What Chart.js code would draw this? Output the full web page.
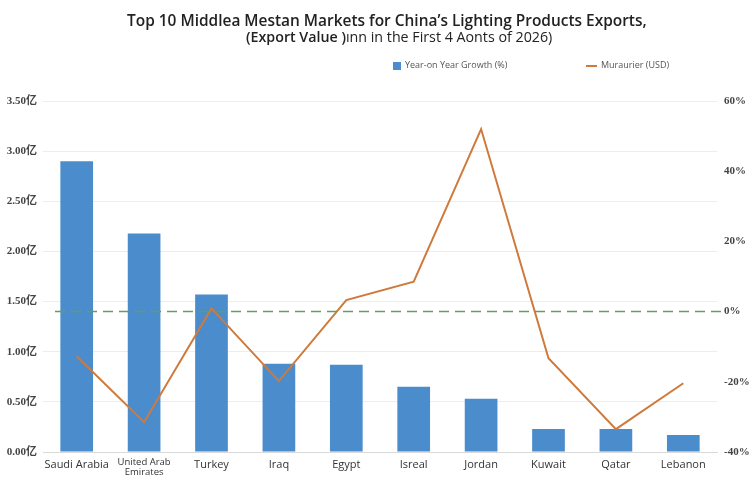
<!DOCTYPE html>
<html>
<head>
<meta charset="utf-8">
<script src="https://cdn.jsdelivr.net/npm/chart.js@4"></script>
<style>
    html, body { margin: 0; padding: 0; background: #fff; }
    #wrap { position: relative; width: 750px; height: 478px; overflow: hidden; }
    #chart { position: absolute; left: 0; top: 0; }
    .title { position: absolute; white-space: nowrap; font-family: "Open Sans", sans-serif; color: #222; }
    #t1 { left: 127px; top: 9px; font-size: 15.45px; font-weight: 600; }
    #t2 { left: 246px; top: 27px; font-size: 14.25px; font-weight: 400; }
    #t2 b { font-weight: 600; }
    .leg { position: absolute; top: 58px; font-family: "Open Sans", sans-serif; font-size: 9px; color: #555; white-space: nowrap; }
    .sw { display: inline-block; vertical-align: middle; margin-right: 4px; }
</style>
</head>
<body>
<div id="wrap">
    <canvas id="chart" width="750" height="478"></canvas>
    <div class="title" id="t1">Top 10 Middlea Mestan Markets for China’s Lighting Products Exports,</div>
    <div class="title" id="t2"><b>(Export Value )</b>ınn in the First 4 Aonts of 2026)</div>
    <div class="leg" style="left:393px"><span class="sw" style="width:8px;height:8px;background:#4a8ccc"></span>Year-on Year Growth (%)</div>
    <div class="leg" style="left:586px"><span class="sw" style="width:11px;height:2px;background:#cf7a3c"></span>Muraurier (USD)</div>
</div>
<script>
// values
const categories = ['Saudi Arabia', ['United Arab', 'Emirates'], 'Turkey', 'Iraq', 'Egypt',
    'Isreal', 'Jordan', 'Kuwait', 'Qatar', 'Lebanon'];
const exportValues = [2.90, 2.18, 1.57, 0.88, 0.87, 0.65, 0.53, 0.23, 0.23, 0.17];
const growthRates = [-12.7, -31.5, 0.9, -19.8, 3.3, 8.5, 52.0, -13.3, -33.5, -20.4];
const leftTicks = { min: 0, max: 3.5, step: 0.5 };
const rightTicks = { min: -40, max: 60, step: 20 };

// dashed green reference line at 0% on the right axis
const zeroLine = {
    id: 'zeroLine',
    afterDatasetsDraw(chart) {
        const { ctx, chartArea } = chart;
        const y = chart.scales.y1.getPixelForValue(0);
        ctx.save();
        ctx.strokeStyle = '#62a057';
        ctx.lineWidth = 1.5;
        ctx.setLineDash([10, 6]);
        ctx.beginPath();
        ctx.moveTo(chartArea.left + 12, y);
        ctx.lineTo(chartArea.right + 4, y);
        ctx.stroke();
        ctx.restore();
    }
};

new Chart(document.getElementById('chart'), {
    data: {
        labels: categories,
        datasets: [{
            type: 'line',
            label: 'Muraurier (USD)',
            data: growthRates,
            yAxisID: 'y1',
            borderColor: '#cf7a3c',
            borderWidth: 2,
            pointRadius: 0,
            tension: 0,
            order: 0
        }, {
            type: 'bar',
            label: 'Year-on Year Growth (%)',
            data: exportValues,
            yAxisID: 'y',
            backgroundColor: '#4a8ccc',
            categoryPercentage: 1,
            barPercentage: 0.485,
            order: 1
        }]
    },
    options: {
        responsive: false,
        animation: false,
        devicePixelRatio: 1,
        layout: { padding: { top: 101, left: 0, right: 0, bottom: 0 } },
        plugins: { legend: { display: false }, title: { display: false }, tooltip: { enabled: false } },
        scales: {
            x: {
                grid: { display: false, drawTicks: false },
                border: { color: '#d9d9d9' },
                ticks: {
                    color: '#333',
                    padding: 5,
                    maxRotation: 0,
                    autoSkip: false,
                    font: ctx => ctx.index === 1
                        ? { family: '"Open Sans", sans-serif', size: 9.5, lineHeight: 1.1 }
                        : { family: '"Open Sans", sans-serif', size: 11, lineHeight: 1.45 }
                },
                afterFit: s => { s.height = 26; }
            },
            y: {
                position: 'left',
                min: leftTicks.min,
                max: leftTicks.max,
                grid: { color: '#ededed', drawTicks: false },
                border: { display: false },
                ticks: {
                    stepSize: leftTicks.step,
                    padding: 6,
                    color: '#444',
                    font: { family: '"Liberation Serif", "Noto Sans CJK SC", serif', size: 11, weight: 'bold' },
                    callback: v => v.toFixed(2) + '亿'
                },
                afterFit: s => { s.width = 43; }
            },
            y1: {
                position: 'right',
                min: rightTicks.min,
                max: rightTicks.max,
                grid: { display: false, drawTicks: false },
                border: { display: false },
                ticks: {
                    stepSize: rightTicks.step,
                    padding: 7,
                    color: '#444',
                    font: { family: '"Liberation Serif", serif', size: 11, weight: 'bold' },
                    callback: v => v + '%'
                },
                afterFit: s => { s.width = 33; }
            }
        }
    },
    plugins: [zeroLine]
});
</script>
</body>
</html>
